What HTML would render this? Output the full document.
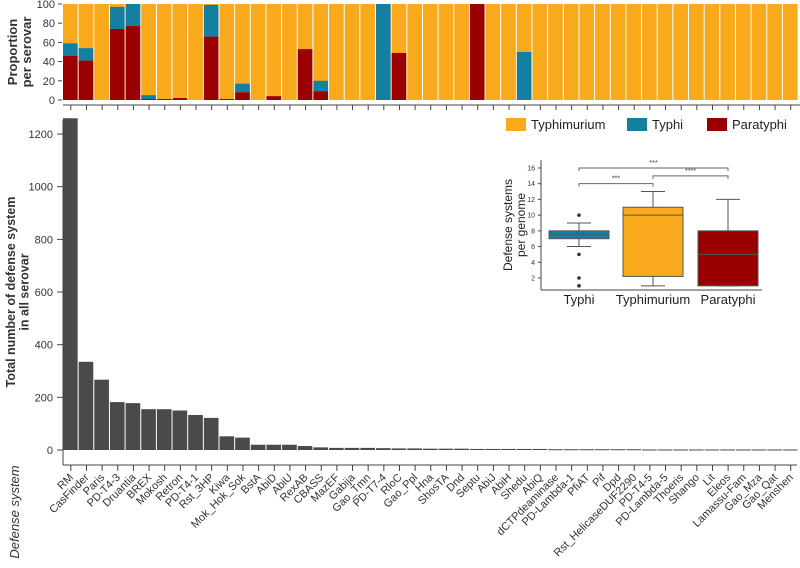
<!DOCTYPE html>
<html><head><meta charset="utf-8"><style>
body{margin:0;background:#fff;width:800px;height:563px;overflow:hidden}
svg{font-family:"Liberation Sans",Arial,sans-serif}
</style></head><body>
<svg id="c" width="800" height="563"></svg>
<script>
const categories=["RM","CasFinder","Paris","PD-T4-3","Druantia","BREX","Mokosh","Retron","PD-T4-1","Rst_3HP","Kiwa","Mok_Hok_Sok","BstA","AbiD","AbiU","RexAB","CBASS","MazEF","Gabija","Gao_Tmn","PD-T7-4","RloC","Gao_Ppl","Hna","ShosTA","Dnd","Septu","AbiJ","AbiH","Shedu","AbiQ","dCTPdeaminase","PD-Lambda-1","PfiAT","Pif","Dpd","Rst_HelicaseDUF2290","PD-T4-5","PD-Lambda-5","Thoeris","Shango","Lit","Eleos","Lamassu-Fam","Gao_Mza","Gao_Qat","Menshen"];
const totals=[1260,335,267,182,178,155,155,150,133,122,52,47,20,20,20,15,10,8,8,8,7,6,6,5,5,5,4,4,4,4,4,3,3,3,3,3,3,2,2,2,2,2,2,2,2,2,2];
const paratyphiPct=[46,41,0,74,77,1,1,2,0,66,1,8,0,4,0,53,9,0,0,0,0,49,0,0,0,0,100,0,0,0,0,0,0,0,0,0,0,0,0,0,0,0,0,0,0,0,0];
const typhiPct=[13,13,0,23,23,4,0,0,0,33,0,9,0,0,0,0,11,0,0,0,100,0,0,0,0,0,0,0,0,50,0,0,0,0,0,0,0,0,0,0,0,0,0,0,0,0,0];
const yTicks=[0,200,400,600,800,1000,1200];
const pTicks=[0,20,40,60,80,100];
const groups=["Typhi","Typhimurium","Paratyphi"];
const boxQ1=[7,2.2,1],boxMed=[7.6,10,5],boxQ3=[8,11,8],whLo=[6,1,1],whHi=[9,13,12];
const outliers=[[10,5,2,1],[],[]];
const inTicks=[2,4,6,8,10,12,14,16];
const C={ty:"#f8a91c",ti:"#147fa0",pa:"#9b0000",bar:"#4a4a4a"};
const svg=document.getElementById('c');const NS="http://www.w3.org/2000/svg";
function mk(t,a,p){const e=document.createElementNS(NS,t);for(const k in a)e.setAttribute(k,a[k]);(p||svg).appendChild(e);return e;}
const X0=63,BW=15.65;
const bx=i=>X0+i*BW;
const py=v=>100-v*0.96;
categories.forEach((c,i)=>{
 let r=mk('rect',{x:bx(i),y:py(100),width:BW-1,height:96,fill:C.ty});
 
 let t=mk('rect',{x:bx(i),y:py(paratyphiPct[i]+typhiPct[i]),width:BW-1,height:typhiPct[i]*0.96,fill:C.ti});
 
 let p=mk('rect',{x:bx(i),y:py(paratyphiPct[i]),width:BW-1,height:paratyphiPct[i]*0.96,fill:C.pa});
 
 mk('line',{x1:bx(i)+BW/2,x2:bx(i)+BW/2,y1:105,y2:110,stroke:'#444'});
});
mk('line',{x1:X0,x2:800,y1:105,y2:105,stroke:'#444'});
pTicks.forEach(v=>{mk('line',{x1:58,x2:62,y1:py(v),y2:py(v),stroke:'#444'});
 const t=mk('text',{x:55,y:py(v)+4,'text-anchor':'end','font-size':11,fill:'#333'});t.textContent=v;});
let tt=mk('text',{transform:'translate(19,52) rotate(-90)','text-anchor':'middle','font-size':13,'font-weight':'bold',fill:'#333'});

tt.innerHTML='<tspan x="0" dy="-2">Proportion</tspan><tspan x="0" dy="14">per serovar</tspan>';
const yb=v=>450-v*0.2633;
categories.forEach((c,i)=>{
 let r=mk('rect',{x:bx(i),y:yb(totals[i]),width:BW-1,height:Math.max(totals[i]*0.2633,1),fill:C.bar});
 
 const cx=bx(i)+BW/2;
 mk('line',{x1:cx,x2:cx,y1:465,y2:471,stroke:'#444'});
 const l=mk('text',{transform:`translate(${cx+3},${478}) rotate(-45)`,'text-anchor':'end','font-size':11,fill:'#333'});
 l.textContent=c;
});
mk('line',{x1:63,x2:63,y1:120,y2:465,stroke:'#444'});
mk('line',{x1:63,x2:797,y1:465,y2:465,stroke:'#444'});
yTicks.forEach(v=>{mk('line',{x1:57,x2:63,y1:yb(v),y2:yb(v),stroke:'#444'});
 const t=mk('text',{x:53,y:yb(v)+4,'text-anchor':'end','font-size':11,fill:'#333'});t.textContent=v;});
let yt=mk('text',{transform:'translate(17,292) rotate(-90)','text-anchor':'middle','font-size':12.5,'font-weight':'bold',fill:'#333'});

yt.innerHTML='<tspan x="0" dy="-2">Total number of defense system</tspan><tspan x="0" dy="13.5">in all serovar</tspan>';
let xt=mk('text',{transform:'translate(19,512) rotate(-90)','text-anchor':'middle','font-size':13,'font-style':'italic',fill:'#333'});
xt.textContent='Defense system';
[["Typhimurium",C.ty,506],["Typhi",C.ti,627],["Paratyphi",C.pa,707]].forEach(([n,col,x])=>{
 const g=mk('g',{});
 mk('rect',{x:x,y:118,width:20,height:13,fill:col},g);
 const t=mk('text',{x:x+25,y:129,'font-size':13,fill:'#222'},g);t.textContent=n;});
const iy=v=>278-(v-2)*7.86;const gx=[579,653,728];const gc=[C.ti,C.ty,C.pa];
mk('line',{x1:541,x2:541,y1:160,y2:290,stroke:'#444'});
mk('line',{x1:541,x2:762,y1:290,y2:290,stroke:'#444'});
inTicks.forEach(v=>{mk('line',{x1:538,x2:541,y1:iy(v),y2:iy(v),stroke:'#444'});
 const t=mk('text',{x:535,y:iy(v)+2.5,'text-anchor':'end','font-size':7,fill:'#333'});t.textContent=v;});
let it=mk('text',{transform:'translate(514,225) rotate(-90)','text-anchor':'middle','font-size':12,fill:'#222'});

it.innerHTML='<tspan x="0" dy="-2">Defense systems</tspan><tspan x="0" dy="13">per genome</tspan>';
groups.forEach((g,i)=>{
 const x=gx[i],w=60;
 mk('line',{x1:x,x2:x,y1:iy(whLo[i]),y2:iy(whHi[i]),stroke:'#555'});
 mk('line',{x1:x-12,x2:x+12,y1:iy(whLo[i]),y2:iy(whLo[i]),stroke:'#555'});
 mk('line',{x1:x-12,x2:x+12,y1:iy(whHi[i]),y2:iy(whHi[i]),stroke:'#555'});
 const b=mk('rect',{x:x-w/2,y:iy(boxQ3[i]),width:w,height:iy(boxQ1[i])-iy(boxQ3[i]),fill:gc[i],stroke:'#555'});
 
 mk('line',{x1:x-w/2,x2:x+w/2,y1:iy(boxMed[i]),y2:iy(boxMed[i]),stroke:'#555'});
 outliers[i].forEach(o=>mk('circle',{cx:x,cy:iy(o),r:1.8,fill:'#333'}));
 const t=mk('text',{x:x,y:304,'text-anchor':'middle','font-size':13,fill:'#222'});t.textContent=g;
});
[[0,1,14,"***"],[0,2,16,"***"],[1,2,15,"****"]].forEach(([a,b,v,s])=>{
 const y=iy(v);mk('path',{d:`M${gx[a]},${y+3}V${y}H${gx[b]}V${y+3}`,fill:'none',stroke:'#666'});
 const t=mk('text',{x:(gx[a]+gx[b])/2,y:y-3,'text-anchor':'middle','font-size':7,fill:'#333'});t.textContent=s;});
</script>
</body></html>
